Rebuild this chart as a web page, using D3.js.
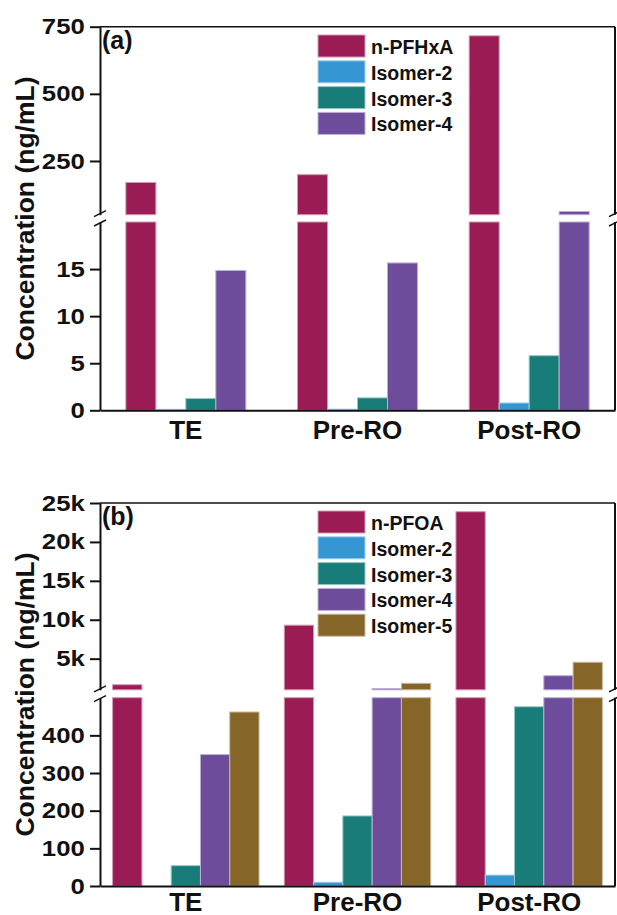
<!DOCTYPE html>
<html>
<head>
<meta charset="utf-8">
<script src="https://cdn.jsdelivr.net/npm/d3@7"></script>
<style>
  body { margin: 0; background: #fff; }
  svg { display: block; font-family: "Liberation Sans", Arial, sans-serif; font-weight: bold; }
</style>
</head>
<body>
<script>
const categories = ["TE", "Pre-RO", "Post-RO"];

// panel (a) - PFHxA, ng/mL
const seriesA = ["n-PFHxA", "Isomer-2", "Isomer-3", "Isomer-4"];
const nPFHxA = [170, 199, 716];
const hxIsomer2 = [0.1, 0.12, 0.78];
const hxIsomer3 = [1.25, 1.32, 5.8];
const hxIsomer4 = [14.85, 15.65, 62];
const ticksALow = [0, 5, 10, 15];
const ticksAHigh = [250, 500, 750];

// panel (b) - PFOA, ng/mL
const seriesB = ["n-PFOA", "Isomer-2", "Isomer-3", "Isomer-4", "Isomer-5"];
const nPFOA = [1650, 9300, 23880];
const oaIsomer2 = [0, 10, 29];
const oaIsomer3 = [54, 186, 476];
const oaIsomer4 = [349, 1165, 2810];
const oaIsomer5 = [462, 1830, 4540];
const ticksBLow = [0, 100, 200, 300, 400];
const ticksBHigh = [5000, 10000, 15000, 20000, 25000];

const colors = ["#9b1b54", "#3596d4", "#187d79", "#6d4d9b", "#856628"];
const ink = "#111";

const svg = d3.select("body").append("svg")
  .attr("width", 617)
  .attr("height", 915);

function drawPanel(p) {
  const g = svg.append("g");
  const left = 100, right = 615;

  const x = d3.scaleBand()
    .domain(categories)
    .range([left, right])
    .paddingInner(p.pad)
    .paddingOuter(p.pad / 2);
  const xs = d3.scaleBand()
    .domain(p.series)
    .range([0, x.bandwidth()]);

  // broken y axis: two linear pieces
  const yLow = d3.scaleLinear().domain(p.lowDomain).range([p.bottom, p.brkLow]);
  const yHigh = d3.scaleLinear().domain(p.highDomain).range([p.brkHigh, p.top]);

  p.values.forEach((vals, i) => {
    const fill = colors[i];
    const edge = d3.interpolateRgb(fill, "#ffffff")(0.55);
    const bars = g.append("g")
      .attr("fill", fill)
      .attr("stroke", edge)
      .attr("stroke-width", 1);
    vals.forEach((v, j) => {
      const bx = x(categories[j]) + xs(p.series[i]);
      const lowTop = yLow(Math.min(v, p.lowDomain[1]));
      bars.append("rect")
        .attr("x", bx)
        .attr("y", lowTop)
        .attr("width", xs.bandwidth())
        .attr("height", p.bottom - lowTop);
      if (v > p.highDomain[0]) {
        bars.append("rect")
          .attr("x", bx)
          .attr("y", yHigh(v))
          .attr("width", xs.bandwidth())
          .attr("height", p.brkHigh - yHigh(v));
      }
    });
  });

  function styleY(sel) {
    sel.selectAll("path, line").attr("stroke", ink).attr("stroke-width", 2);
    sel.selectAll("text")
      .attr("fill", ink)
      .style("font-size", "22px")
      .attr("transform", "scale(1.17,1)");
  }

  g.append("g")
    .attr("transform", `translate(${left},0)`)
    .call(d3.axisLeft(yLow).tickValues(p.lowTicks).tickSize(10).tickSizeOuter(0).tickPadding(3))
    .call(styleY);
  g.append("g")
    .attr("transform", `translate(${left},0)`)
    .call(d3.axisLeft(yHigh).tickValues(p.highTicks).tickFormat(p.fmt)
      .tickSize(10).tickSizeOuter(0).tickPadding(3))
    .call(styleY);

  // x axis
  g.append("g")
    .attr("transform", `translate(0,${p.bottom})`)
    .call(d3.axisBottom(x).tickSize(0).tickSizeOuter(0).tickPadding(p.labelPad))
    .call(a => a.select(".domain").attr("stroke", ink).attr("stroke-width", 2))
    .call(a => a.selectAll("text").attr("fill", ink).style("font-size", "26px"));

  // frame: top and right
  g.append("line")
    .attr("x1", left).attr("x2", right)
    .attr("y1", p.top).attr("y2", p.top)
    .attr("stroke", ink).attr("stroke-width", 1.6);
  [[p.top, p.brkHigh], [p.brkLow, p.bottom]].forEach(s => {
    g.append("line")
      .attr("x1", right).attr("x2", right)
      .attr("y1", s[0]).attr("y2", s[1])
      .attr("stroke", ink).attr("stroke-width", 2);
  });

  // break marks
  [left, right].forEach(bx => {
    [p.brkHigh - 1, p.brkLow + 1].forEach(by => {
      g.append("line")
        .attr("x1", bx - 6).attr("y1", by + 3)
        .attr("x2", bx + 6).attr("y2", by - 3)
        .attr("stroke", ink).attr("stroke-width", 1.5);
    });
  });

  // legend
  const leg = g.append("g");
  p.series.forEach((name, i) => {
    const ly = p.legendTop + i * 25.8;
    leg.append("rect")
      .attr("x", 318).attr("y", ly)
      .attr("width", 47).attr("height", 22)
      .attr("fill", colors[i])
      .attr("stroke", d3.interpolateRgb(colors[i], "#ffffff")(0.55))
      .attr("stroke-width", 1);
    leg.append("text")
      .attr("x", 371).attr("y", ly + 19)
      .attr("fill", ink)
      .style("font-size", "19.5px")
      .text(name);
  });

  g.append("text")
    .attr("x", 102).attr("y", p.top + 22)
    .attr("fill", ink)
    .style("font-size", "25px")
    .text(p.label);

  g.append("text")
    .attr("transform", `translate(34,${(p.top + p.bottom) / 2}) rotate(-90)`)
    .attr("text-anchor", "middle")
    .attr("fill", ink)
    .style("font-size", "26.5px")
    .text("Concentration (ng/mL)");
}

drawPanel({
  label: "(a)",
  series: seriesA,
  values: [nPFHxA, hxIsomer2, hxIsomer3, hxIsomer4],
  pad: 0.301,
  top: 26.7, brkHigh: 214.7, brkLow: 222, bottom: 410.3,
  lowDomain: [0, 20], highDomain: [50, 750],
  lowTicks: ticksALow, highTicks: ticksAHigh,
  fmt: d => d,
  labelPad: 10,
  legendTop: 35
});

drawPanel({
  label: "(b)",
  series: seriesB,
  values: [nPFOA, oaIsomer2, oaIsomer3, oaIsomer4, oaIsomer5],
  pad: 0.147,
  top: 503, brkHigh: 689.8, brkLow: 697.7, bottom: 886,
  lowDomain: [0, 500], highDomain: [1000, 25000],
  lowTicks: ticksBLow, highTicks: ticksBHigh,
  fmt: d => d / 1000 + "k",
  labelPad: 7,
  legendTop: 511
});
</script>
</body>
</html>
